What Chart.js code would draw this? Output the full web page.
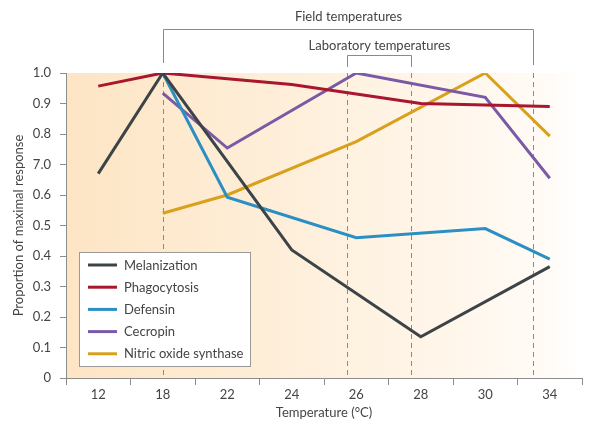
<!DOCTYPE html>
<html><head><meta charset="utf-8">
<script src="https://cdn.jsdelivr.net/npm/chart.js@4.4.0/dist/chart.umd.min.js"></script>
<style>html,body{margin:0;padding:0;background:#fff;}#wrap{width:601px;height:431px;position:relative;}</style>
</head><body><div id="wrap"><canvas id="c" width="601" height="431"></canvas></div>
<script>
// ---- data ----
const categories = ['12', '18', '22', '24', '26', '28', '30', '34'];
const melanization = [0.67, 1.0, null, 0.42, null, 0.135, null, 0.365];
const phagocytosis = [0.957, 1.0, null, 0.962, null, 0.90, null, 0.89];
const defensin = [null, 1.0, 0.593, null, 0.46, null, 0.49, 0.39];
const cecropin = [null, 0.934, 0.754, null, 1.0, null, 0.92, 0.655];
const nitricOxide = [null, 0.54, 0.60, null, 0.775, null, 1.0, 0.793];
const seriesNames = ['Melanization', 'Phagocytosis', 'Defensin', 'Cecropin', 'Nitric oxide synthase'];
const yTickLabels = ['0', '0.1', '0.2', '0.3', '0.4', '0.5', '0.6', '7.0', '0.8', '0.9', '1.0'];
const fieldLabel = 'Field temperatures';
const labLabel = 'Laboratory temperatures';
// bracket limits, in category-index units
const fieldRange = [1, 6.74];
const labRange = [3.86, 4.85];

const colors = ['#3d4447', '#a8162f', '#2b8fc4', '#7a5aa6', '#d9a01c'];
const FONT = 'Lato, "Open Sans", sans-serif';
const TXT = '#444';
const AXIS = '#8c8c8c';

const seriesData = [melanization, phagocytosis, defensin, cecropin, nitricOxide];
const datasets = seriesData.map((d, i) => ({
  label: seriesNames[i], data: d, borderColor: colors[i], backgroundColor: colors[i],
  borderWidth: 3, pointRadius: 0, pointHoverRadius: 0, spanGaps: true, tension: 0, fill: false
}));

const decor = {
  id: 'decor',
  beforeDraw(chart) {
    const { ctx, chartArea: a } = chart;
    ctx.save();
    const g = ctx.createLinearGradient(a.left, 0, a.right, 0);
    g.addColorStop(0, '#fde5c4');
    g.addColorStop(0.35, '#feedd6');
    g.addColorStop(0.7, '#fff5e8');
    g.addColorStop(0.93, '#fffbf6');
    g.addColorStop(1, '#ffffff');
    ctx.fillStyle = g;
    ctx.fillRect(a.left, a.top, a.right - a.left, a.bottom - a.top);
    ctx.restore();
  },
  beforeDatasetsDraw(chart) {
    const { ctx, chartArea: a, scales: { x } } = chart;
    ctx.save();
    ctx.strokeStyle = '#8a8a8a'; ctx.lineWidth = 1; ctx.setLineDash([5, 4]);
    [fieldRange[0], labRange[0], labRange[1], fieldRange[1]].forEach(v => {
      const px = Math.round(x.getPixelForValue(v)) + 0.5;
      ctx.beginPath(); ctx.moveTo(px, a.top); ctx.lineTo(px, a.bottom); ctx.stroke();
    });
    ctx.restore();
  },
  afterDatasetsDraw(chart) {
    const { ctx, chartArea: a, scales: { x } } = chart;
    ctx.save();
    // brackets
    ctx.strokeStyle = '#8a8a8a'; ctx.lineWidth = 1;
    const f0 = Math.round(x.getPixelForValue(fieldRange[0])) + 0.5;
    const f1 = Math.round(x.getPixelForValue(fieldRange[1])) + 0.5;
    const l0 = Math.round(x.getPixelForValue(labRange[0])) + 0.5;
    const l1 = Math.round(x.getPixelForValue(labRange[1])) + 0.5;
    const fy = a.top - 43.5, ly = a.top - 17.5;
    ctx.beginPath();
    ctx.moveTo(f0, a.top - 10); ctx.lineTo(f0, fy); ctx.lineTo(f1, fy); ctx.lineTo(f1, a.top - 8);
    ctx.stroke();
    ctx.beginPath();
    ctx.moveTo(l0, a.top - 6); ctx.lineTo(l0, ly); ctx.lineTo(l1, ly); ctx.lineTo(l1, a.top - 6);
    ctx.stroke();
    ctx.fillStyle = TXT; ctx.font = '13px ' + FONT; ctx.textAlign = 'center'; ctx.textBaseline = 'middle';
    ctx.fillText(fieldLabel, (f0 + f1) / 2, fy - 13);
    ctx.fillText(labLabel, (l0 + l1) / 2, ly - 10);
    // legend
    const bx = 79.5, by = 252.5, bw = 171, bh = 114;
    ctx.fillStyle = '#ffffff'; ctx.fillRect(bx, by, bw, bh);
    ctx.strokeStyle = '#9a9a9a'; ctx.strokeRect(bx, by, bw, bh);
    ctx.textAlign = 'left';
    chart.data.datasets.forEach((ds, i) => {
      const yy = 265 + i * 22.2;
      ctx.strokeStyle = ds.borderColor; ctx.lineWidth = 3;
      ctx.beginPath(); ctx.moveTo(88, yy); ctx.lineTo(117, yy); ctx.stroke();
      ctx.fillStyle = TXT; ctx.fillText(ds.label, 124, yy + 0.5);
    });
    ctx.restore();
  }
};

new Chart(document.getElementById('c'), {
  type: 'line',
  data: { labels: categories, datasets },
  plugins: [decor],
  options: {
    responsive: false, animation: false, devicePixelRatio: 1,
    layout: { padding: { top: 73, right: 19, bottom: 0, left: 0 } },
    plugins: { legend: { display: false }, tooltip: { enabled: false } },
    scales: {
      x: {
        type: 'category', offset: true,
        grid: { display: true, offset: true, drawOnChartArea: false, tickLength: 7, color: AXIS },
        border: { color: AXIS, width: 1 },
        ticks: { color: TXT, font: { family: FONT, size: 13 }, padding: 2, maxRotation: 0 },
        title: { display: true, text: 'Temperature (°C)', color: TXT, font: { family: FONT, size: 13 }, padding: { top: 4, bottom: 10 } },
        afterFit(s) { s.height = 53; }
      },
      y: {
        min: 0, max: 1,
        grid: { display: true, drawOnChartArea: false, tickLength: 6, color: AXIS },
        border: { color: AXIS, width: 1 },
        ticks: { stepSize: 0.1, color: TXT, font: { family: FONT, size: 13 }, padding: 9,
          callback: (v, i) => yTickLabels[i] },
        title: { display: true, text: 'Proportion of maximal response', color: TXT, font: { family: FONT, size: 13 }, padding: { top: 11, bottom: 4 } },
        afterFit(s) { s.width = 66; }
      }
    }
  }
});
</script></body></html>
